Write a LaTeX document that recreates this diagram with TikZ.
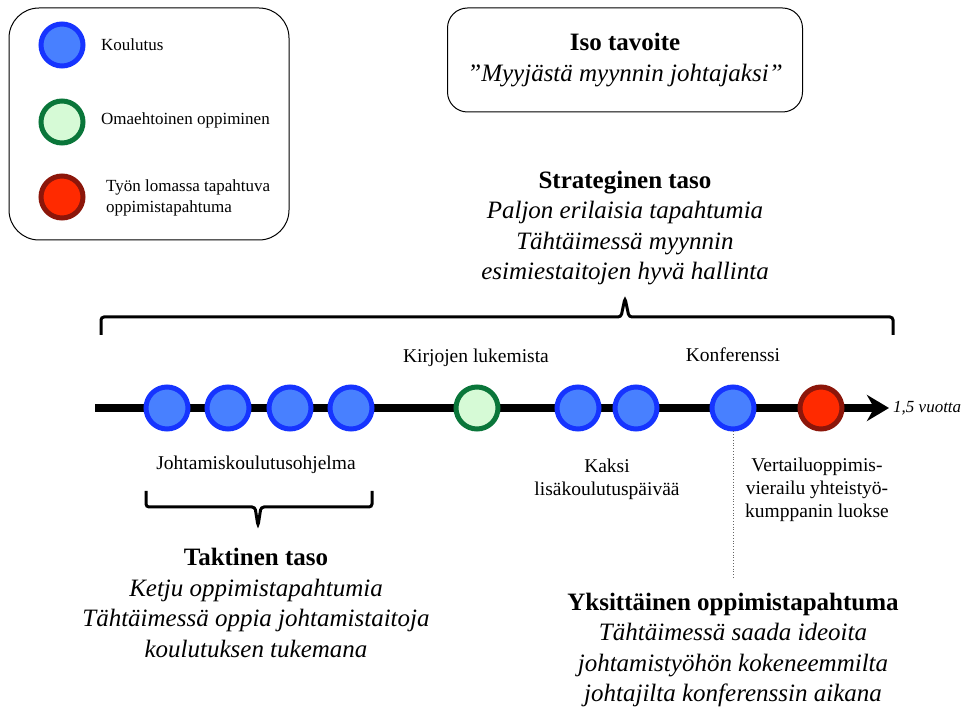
\documentclass[tikz,border=0pt]{standalone}
\usepackage{fontspec}
\setmainfont{Liberation Serif}
\usepackage{xcolor}
\usetikzlibrary{arrows.meta}

\definecolor{koulufill}{RGB}{72,128,255}
\definecolor{koululine}{RGB}{22,52,255}
\definecolor{omafill}{RGB}{214,250,214}
\definecolor{omaline}{RGB}{10,118,58}
\definecolor{tyofill}{RGB}{255,42,0}
\definecolor{tyoline}{RGB}{140,22,10}

\begin{document}
\begin{tikzpicture}
          [x=1pt,y=-1pt,
          pallo/.style={shape=circle,line width=5pt,minimum size=42pt,inner sep=0pt},
          koulutus/.style={pallo,draw=koululine,fill=koulufill},
          oma/.style={pallo,draw=omaline,fill=omafill},
          tyo/.style={pallo,draw=tyoline,fill=tyofill},
          selite/.style={anchor=west,align=left,inner sep=0pt,font=\fontsize{17}{20.5}\selectfont},
          teksti/.style={align=center,font=\fontsize{19.5}{23}\selectfont},
          taso/.style={align=center,font=\fontsize{25}{30.5}\selectfont},
          aika/.style={->,>={Stealth[length=22pt,width=26pt]},line width=8pt},
          sulku/.style={line width=3pt,rounded corners=3pt}]

            \useasboundingbox (0,0) rectangle (962,708);

            % selitteet
            \draw [line width=1pt,rounded corners=30pt] (9,8) rectangle (289,240);
            \node (s1) [koulutus] at (62,45) {};
            \node (s2) [oma] at (62,122) {};
            \node (s3) [tyo] at (62,197) {};
            \node (t1) [selite] at (101,45) {Koulutus};
            \node (t2) [selite] at (101,120) {Omaehtoinen oppiminen};
            \node (t3) [selite] at (106,198) {Työn lomassa tapahtuva\\oppimistapahtuma};

            % iso tavoite
            \node (iso) [draw,line width=1pt,rounded corners=20pt,minimum width=355pt,
              minimum height=104pt,taso] at (625,60)
              {\textbf{Iso tavoite}\\\textit{”Myyjästä myynnin johtajaksi”}};

            \node (strat) [taso] at (625,228) {\textbf{Strateginen taso}\\
              \textit{Paljon erilaisia tapahtumia}\\
              \textit{Tähtäimessä myynnin}\\
              \textit{esimiestaitojen hyvä hallinta}};

            \draw [sulku] (101,335) -- (101,317) -- (621,317) -- (625,298)
              -- (629,317) -- (893,317) -- (893,335);

            % aikajana
            \coordinate (alku) at (95,408);
            \coordinate (loppu) at (889,408);
            \draw [aika] (alku) -- (loppu);
            \node (vuosi) [anchor=west,inner sep=0pt,font=\fontsize{17}{20}\selectfont\itshape] at (893,408) {1,5 vuotta};

            \node (1) [koulutus] at (167,408) {};
            \node (2) [koulutus] at (228,408) {};
            \node (3) [koulutus] at (290,408) {};
            \node (4) [koulutus] at (351,408) {};
            \node (5) [oma] at (477,408) {};
            \node (6) [koulutus] at (578,408) {};
            \node (7) [koulutus] at (636,408) {};
            \node (8) [koulutus] at (733,408) {};
            \node (9) [tyo] at (821,408) {};

            \node (kirjat) [teksti] at (476,358) {Kirjojen lukemista};
            \node (konf) [teksti] at (733,355) {Konferenssi};
            \node (ohjelma) [teksti] at (256,465) {Johtamiskoulutusohjelma};
            \node (kaksi) [teksti] at (607,479) {Kaksi\\lisäkoulutuspäivää};
            \node (vierailu) [teksti] at (817,490) {Vertailuoppimis-\\vierailu yhteistyö-\\kumppanin luokse};

            \draw [sulku] (146,491) -- (146,507) -- (255,507) -- (258,526)
              -- (261,507) -- (372,507) -- (372,491);

            \coordinate (viiva) at (733,578);
            \draw [dotted,gray!80!black,line width=0.8pt] (8.south) -- (viiva);

            \node (takt) [taso] at (256,603) {\textbf{Taktinen taso}\\
              \textit{Ketju oppimistapahtumia}\\
              \textit{Tähtäimessä oppia johtamistaitoja}\\
              \textit{koulutuksen tukemana}};

            \node (yks) [taso] at (733,650) {\textbf{Yksittäinen oppimistapahtuma}\\
              \textit{Tähtäimessä saada ideoita}\\
              \textit{johtamistyöhön kokeneemmilta}\\
              \textit{johtajilta konferenssin aikana}};

        \end{tikzpicture}
\end{document}
